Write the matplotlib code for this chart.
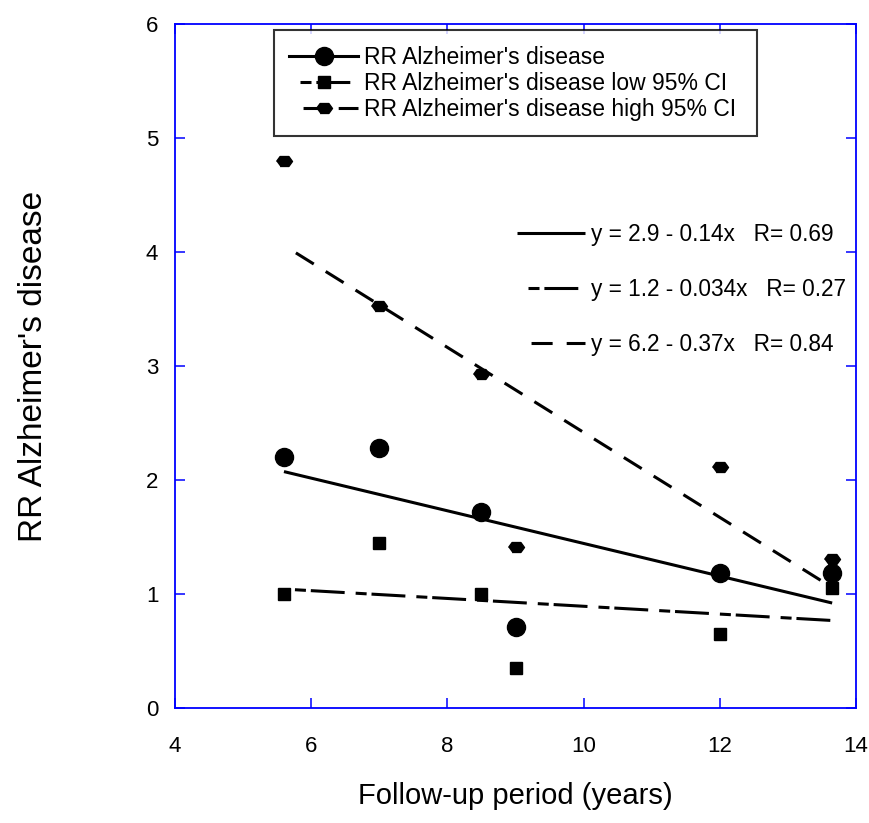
import numpy as np
import matplotlib
matplotlib.use("Agg")
import matplotlib.pyplot as plt
from matplotlib.lines import Line2D

plt.rcParams['font.family'] = ['Liberation Sans', 'DejaVu Sans']

# follow-up period (years) and relative risks
years = [5.6, 7.0, 8.5, 9.0, 12.0, 13.65]
rr = [2.20, 2.28, 1.72, 0.71, 1.18, 1.18]
rr_low = [1.00, 1.45, 1.00, 0.35, 0.65, 1.05]
rr_high = [4.80, 3.53, 2.93, 1.41, 2.11, 1.31]

eq_labels = ["y = 2.9 - 0.14x   R= 0.69",
             "y = 1.2 - 0.034x   R= 0.27",
             "y = 6.2 - 0.37x   R= 0.84"]
series_labels = ["RR Alzheimer's disease",
                 "RR Alzheimer's disease low 95% CI",
                 "RR Alzheimer's disease high 95% CI"]

blue = "#0000FF"
lw = 2.2
solid = "-"
dashdot = (11.1, (11.1, 3.6, 3.6, 1.6))
dashed = (6.9, (6.9, 4.6))
hexagon = [(-1, 0), (-0.55, 0.62), (0.55, 0.62), (1, 0), (0.55, -0.62), (-0.55, -0.62)]

fig = plt.figure(figsize=(8.7, 8.23), dpi=100)
ax = fig.add_axes([175 / 870, 115 / 823, 681 / 870, 684 / 823])

x = np.array(years)
xs = np.array([x.min(), x.max()])
fits = []
for vals, ls in [(rr, solid), (rr_low, dashdot), (rr_high, dashed)]:
  slope, icept = np.polyfit(x, vals, 1)
  line, = ax.plot(xs, icept + slope * xs, color="black", lw=lw, linestyle=ls,
                  solid_capstyle="butt")
  fits.append(line)

ax.plot(years, rr, "o", color="black", ms=13, zorder=3)
ax.plot(years, rr_low, "s", color="black", ms=8.6, zorder=3)
ax.plot(years, rr_high, marker=hexagon, ls="none", color="black", ms=11.5, zorder=3)

ax.set_xlim(4, 14)
ax.set_ylim(0, 6)
ax.set_xticks([4, 6, 8, 10, 12, 14])
ax.set_yticks([0, 1, 2, 3, 4, 5, 6])

for sp in ax.spines.values():
  sp.set_color(blue)
  sp.set_linewidth(1.3)
ax.tick_params(axis="both", which="major", direction="in", length=7, width=1.1,
               color=blue, labelsize=16, top=True, right=True)
ax.tick_params(axis="x", pad=20)
ax.tick_params(axis="y", pad=12)

ax.set_xlabel("Follow-up period (years)", fontsize=21, labelpad=18)
ax.set_ylabel("RR Alzheimer's disease", fontsize=24, labelpad=70)

# legend for the data series
handles = [
  Line2D([], [], color="black", lw=lw, ls=solid, marker="o", ms=13),
  Line2D([], [], color="black", lw=lw, ls=dashdot, marker="s", ms=8.6),
  Line2D([], [], color="black", lw=lw, ls=dashed, marker=hexagon, ms=11.5),
]
leg = ax.legend(handles, series_labels, loc="upper left",
                bbox_to_anchor=(0.145, 0.841, 0.71, 0.15), mode="expand",
                borderaxespad=0, fontsize=16.5, frameon=True, fancybox=False,
                edgecolor="black", handlelength=3.0, handletextpad=0.25,
                labelspacing=0.13, borderpad=0.68)
leg.get_frame().set_linewidth(1.5)
ax.add_artist(leg)

# legend for the regression lines
ax.legend(fits, eq_labels, loc="upper left", bbox_to_anchor=(0.502, 0.709),
          borderaxespad=0, borderpad=0, frameon=False, fontsize=16.3,
          handlelength=3.0, handletextpad=0.27, labelspacing=1.41)

fig.savefig("out.png", dpi=100)
